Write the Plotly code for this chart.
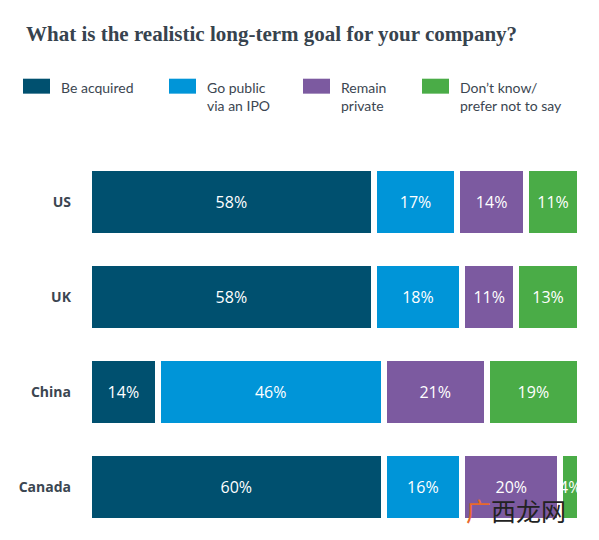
import plotly.graph_objects as go

countries = ["US", "UK", "China", "Canada"]
be_acquired = [58, 58, 14, 60]
go_public = [17, 18, 46, 16]
remain_private = [14, 11, 21, 20]
dont_know = [11, 13, 19, 4]

series_names = ["Be acquired", "Go public<br>via an IPO", "Remain<br>private", "Don\u2019t know/<br>prefer not to say"]
series_values = [be_acquired, go_public, remain_private, dont_know]
colors = ["#00506f", "#0095d8", "#7c5aa0", "#4aac47"]

text_dark = "#3b4651"

fig = go.Figure()
for name, vals, col in zip(series_names, series_values, colors):
    fig.add_trace(go.Bar(
        y=countries, x=vals,
        orientation="h",
        name=name,
        marker=dict(color=col, line=dict(color="white", width=6)),
        text=[f"{v}%" for v in vals],
        textposition="inside",
        insidetextanchor="middle",
        constraintext="none",
        textangle=0,
        textfont=dict(color="white", size=16, family="Open Sans"),
        width=0.72,
        showlegend=False,
    ))

# hand-made legend: coloured blocks + labels
legend_x = [23, 169, 303, 422]
for i, (name, col) in enumerate(zip(series_names, colors)):
    x0 = legend_x[i]
    fig.add_shape(type="rect", xref="paper", yref="paper",
                  x0=(x0 - 89) / 491, x1=(x0 + 27 - 89) / 491,
                  y0=(534.5 - 93) / 380, y1=(534.5 - 78) / 380,
                  fillcolor=col, line=dict(width=0), layer="above")
    fig.add_annotation(text=name, xref="paper", yref="paper",
                       x=(x0 + 36 - 89) / 491, y=(534.5 - 76) / 380,
                       xanchor="left", yanchor="top", align="left",
                       showarrow=False,
                       font=dict(family="Lato", size=14, color=text_dark))

fig.add_annotation(text="<b>What is the realistic long-term goal for your company?</b>",
                   xref="paper", yref="paper", x=(24 - 89) / 491, y=(534.5 - 33) / 380,
                   xanchor="left", yanchor="middle", showarrow=False,
                   font=dict(family="Liberation Serif", size=21, color="#37434e"))

# watermark
fig.add_annotation(text="<span style='color:#e8692a'>\u5e7f</span>\u897f\u9f99\u7f51",
                   xref="paper", yref="paper", x=(516 - 89) / 491, y=(534.5 - 510) / 380,
                   xanchor="center", yanchor="middle", showarrow=False,
                   font=dict(family="Noto Sans CJK SC", size=25, color="#222222"))

fig.update_layout(
    barmode="stack",
    width=599, height=540,
    margin=dict(l=89, r=19, t=154.5, b=5.5),
    paper_bgcolor="white",
    plot_bgcolor="white",
    xaxis=dict(range=[0, 100], visible=False, fixedrange=True),
    yaxis=dict(categoryorder="array", categoryarray=countries[::-1],
               showgrid=False, zeroline=False, showline=False, ticks="",
               ticklabelstandoff=17, range=[-0.5, 3.5],
               tickfont=dict(family="Open Sans", size=14, color=text_dark, weight="bold")),
)

fig.write_html("out.html", config={"displayModeBar": False},
               post_script="document.body.style.margin='0';")
